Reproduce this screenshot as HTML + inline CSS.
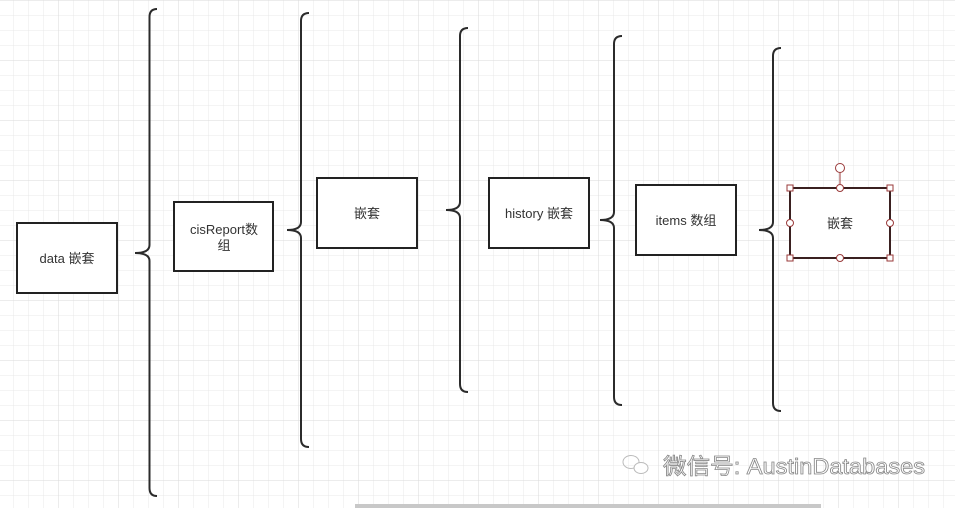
<!DOCTYPE html>
<html><head><meta charset="utf-8"><style>
html,body{margin:0;padding:0;width:955px;height:508px;overflow:hidden;background:#fff}
svg{display:block}
text{font-family:"Liberation Sans","Noto Sans CJK SC",sans-serif;font-size:13px;fill:#333}
</style></head><body>
<svg width="955" height="508" viewBox="0 0 955 508" xmlns="http://www.w3.org/2000/svg">
<defs>
<pattern id="g" x="13.5" y="0.5" width="15" height="15" patternUnits="userSpaceOnUse">
<path d="M0 0H15M0 0V15" stroke="#e8e8e8" stroke-width="1" fill="none"/>
</pattern>
<pattern id="G" x="58.5" y="0.5" width="60" height="60" patternUnits="userSpaceOnUse">
<path d="M0 0H60M0 0V60" stroke="#dadada" stroke-width="1" fill="none"/>
</pattern>
</defs>
<rect width="955" height="508" fill="url(#g)"/>
<rect width="955" height="508" fill="url(#G)"/>
<g fill="none" stroke="#2b2b2b" stroke-width="2">
<path d="M157 9Q149.5 9 149.5 17V245Q149.5 253 135 253Q149.5 253 149.5 261V488Q149.5 496 157 496"/>
<path d="M309 13Q301 13 301 21V222Q301 230 287 230Q301 230 301 238V439Q301 447 309 447"/>
<path d="M468 28Q460 28 460 36V202Q460 210 446 210Q460 210 460 218V384Q460 392 468 392"/>
<path d="M622 36Q614 36 614 44V212Q614 220 600 220Q614 220 614 228V397Q614 405 622 405"/>
<path d="M781 48Q773 48 773 56V222Q773 230 759 230Q773 230 773 238V403Q773 411 781 411"/>
</g>
<g fill="#fff" stroke="#222" stroke-width="2">
<rect x="17" y="223" width="100" height="70"/>
<rect x="174" y="202" width="99" height="69"/>
<rect x="317" y="178" width="100" height="70"/>
<rect x="489" y="178" width="100" height="70"/>
<rect x="636" y="185" width="100" height="70"/>
<rect x="790" y="188" width="100" height="70" stroke="#3a2020"/>
</g>
<text x="67" y="263" text-anchor="middle">data 嵌套</text>
<text x="224" y="234" text-anchor="middle">cisReport数</text>
<text x="224" y="250" text-anchor="middle">组</text>
<text x="367" y="218" text-anchor="middle">嵌套</text>
<text x="539" y="218" text-anchor="middle">history 嵌套</text>
<text x="686" y="225" text-anchor="middle">items 数组</text>
<text x="840" y="228" text-anchor="middle">嵌套</text>
<g stroke="#9a3a3a" stroke-width="1" fill="#fff">
<line x1="840" y1="172" x2="840" y2="188"/>
<circle cx="840" cy="168" r="4.5"/>
<rect x="787" y="185" width="6" height="6"/><rect x="887" y="185" width="6" height="6"/>
<rect x="787" y="255" width="6" height="6"/><rect x="887" y="255" width="6" height="6"/>
<circle cx="840" cy="188" r="3.5"/><circle cx="840" cy="258" r="3.5"/>
<circle cx="790" cy="223" r="3.5"/><circle cx="890" cy="223" r="3.5"/>
</g>
<g fill="none" stroke="#bbb" stroke-width="1">
<ellipse cx="631" cy="462" rx="8" ry="6.5"/>
<ellipse cx="641" cy="468" rx="7" ry="5.5" fill="#fff"/>
</g>
<text x="663" y="474" textLength="262" lengthAdjust="spacingAndGlyphs" style="font-size:22px;fill:#fff;stroke:#888;stroke-width:0.8">微信号: AustinDatabases</text>
<rect x="355" y="504" width="466" height="4" fill="#c8c8c8"/>
</svg>
</body></html>
